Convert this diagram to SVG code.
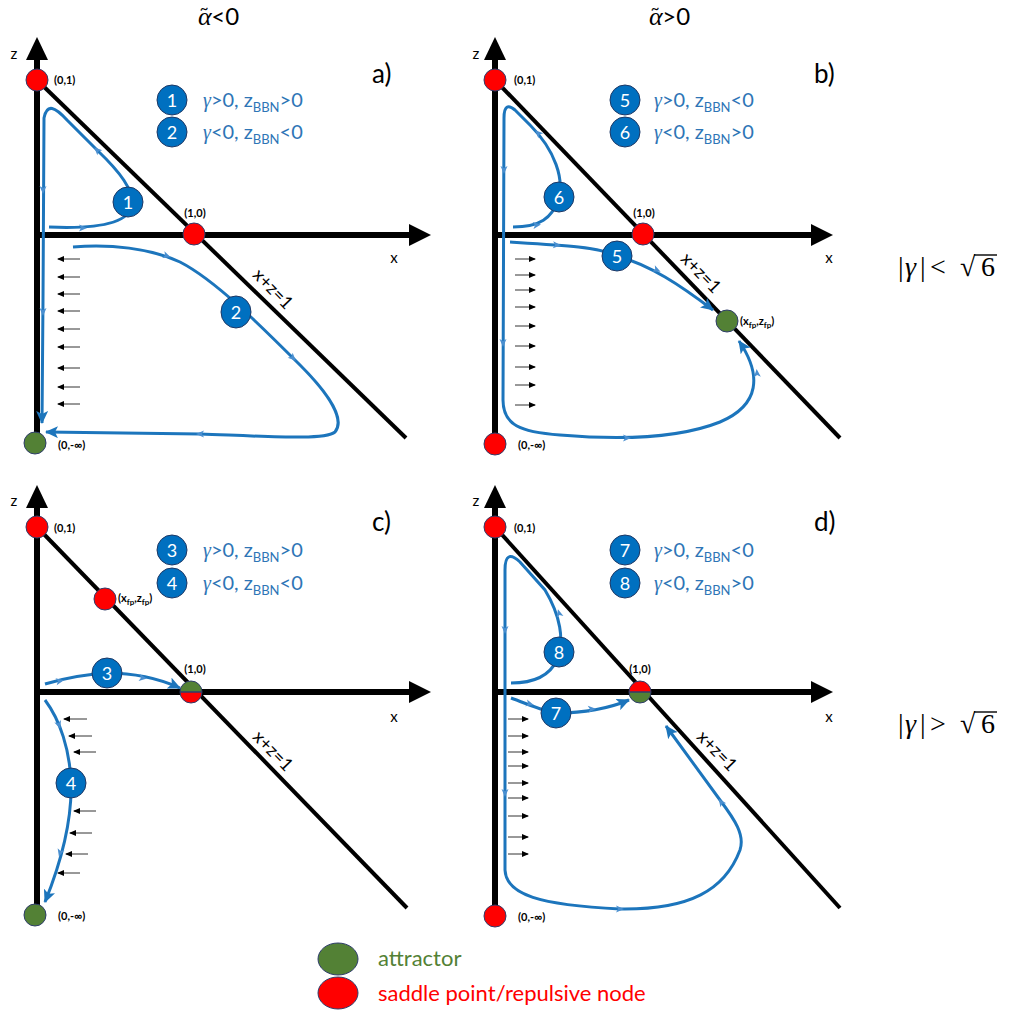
<svg xmlns="http://www.w3.org/2000/svg" xmlns:xlink="http://www.w3.org/1999/xlink" width="1025" height="1018" viewBox="0 0 1025 1018">
<style>
.ax{stroke:#000;stroke-width:6;fill:none}
.axh{fill:#000}
.dg{stroke:#000;stroke-width:4}
.tr{stroke:#1C75BC;stroke-width:3;fill:none}
.tre{stroke:#1C75BC;stroke-width:3;fill:none;marker-end:url(#ah)}
.sa{stroke:#333;stroke-width:1;marker-end:url(#sah)}
.nc{fill:#0070C0;stroke:#1F3864;stroke-width:1}
.nt{fill:#fff;font-family:Lato,"Liberation Sans",sans-serif;font-size:18px;text-anchor:middle}
.red{fill:#FF0000;stroke:#2F3D6B;stroke-width:1}
.grn{fill:#538135;stroke:#2F3D6B;stroke-width:1}
.pt{font-family:Lato,"Liberation Sans",sans-serif;font-weight:bold;font-size:11px;fill:#000}
.ptm{font-family:Lato,"Liberation Sans",sans-serif;font-weight:bold;font-size:11px;fill:#000;text-anchor:middle}
.lab{font-family:Lato,"Liberation Sans",sans-serif;font-size:15px;fill:#000;text-anchor:middle}
.pan{font-family:Lato,"Liberation Sans",sans-serif;font-size:26px;fill:#000}
.leg{font-family:Lato,"Liberation Sans",sans-serif;font-size:20px;fill:#2E75B6}
.g{font-family:"Liberation Serif",serif;font-style:italic}
.sub{font-size:13px}
.line{font-family:Lato,"Liberation Sans",sans-serif;font-size:18px;fill:#000;text-anchor:middle}
.hdr{font-family:Lato,"Liberation Sans",sans-serif;font-size:24px;fill:#000}
.cond{font-family:"Liberation Serif",serif;font-size:28px;fill:#000}
.vinc{stroke:#000;stroke-width:1.4}
.mid{fill:#4A8FD0}
</style>
<defs>
<marker id="ah" markerUnits="userSpaceOnUse" markerWidth="14" markerHeight="12" refX="12" refY="6" orient="auto">
<path d="M0,0 L13,6 L0,12 L3,6 z" fill="#1C75BC"/>
</marker>
<marker id="sah" markerUnits="userSpaceOnUse" markerWidth="7" markerHeight="6" refX="6" refY="3" orient="auto">
<path d="M0,0 L7,3 L0,6 z" fill="#000"/>
</marker>
<path id="tri" d="M4,0 L-4,-3.5 L-2,0 L-4,3.5 z" class="mid"/>
</defs>
<rect width="1025" height="1018" fill="#fff"/>

<!-- headers -->
<text class="hdr" x="198" y="25"><tspan class="g" font-size="26">α</tspan><tspan dx="-12" dy="-11" font-size="15">~</tspan><tspan dx="3" dy="11">&lt;0</tspan></text>
<text class="hdr" x="649" y="25"><tspan class="g" font-size="26">α</tspan><tspan dx="-12" dy="-11" font-size="15">~</tspan><tspan dx="3" dy="11">&gt;0</tspan></text>
<g id="cond-lt">
<text class="cond" y="276"><tspan x="898">|</tspan><tspan x="905" class="g">γ</tspan><tspan x="920">|</tspan><tspan x="930">&lt;</tspan><tspan x="960">√</tspan><tspan x="981">6</tspan></text>
<line class="vinc" x1="974" y1="255" x2="997" y2="255"/>
</g>
<g id="cond-gt">
<text class="cond" y="733"><tspan x="898">|</tspan><tspan x="905" class="g">γ</tspan><tspan x="920">|</tspan><tspan x="930">&gt;</tspan><tspan x="960">√</tspan><tspan x="981">6</tspan></text>
<line class="vinc" x1="974" y1="712" x2="997" y2="712"/>
</g>

<!-- axes and lines -->
<g id="axes">
<line class="ax" x1="37" y1="440" x2="37" y2="58"/><polygon class="axh" points="37,37 26,60 48,60"/>
<line class="ax" x1="37" y1="235" x2="411" y2="235"/><polygon class="axh" points="431,235 409,224 409,246"/>
<line class="dg" x1="37" y1="80" x2="406" y2="438"/>
<line class="ax" x1="495" y1="442" x2="495" y2="58"/><polygon class="axh" points="495,37 484,60 506,60"/>
<line class="ax" x1="495" y1="235" x2="813" y2="235"/><polygon class="axh" points="833,235 811,224 811,246"/>
<line class="dg" x1="495" y1="80" x2="840" y2="438"/>
<line class="ax" x1="37" y1="912" x2="37" y2="506"/><polygon class="axh" points="37,485 26,508 48,508"/>
<line class="ax" x1="37" y1="692" x2="411" y2="692"/><polygon class="axh" points="431,692 409,681 409,703"/>
<line class="dg" x1="37" y1="527" x2="407" y2="908"/>
<line class="ax" x1="495" y1="913" x2="495" y2="506"/><polygon class="axh" points="495,485 484,508 506,508"/>
<line class="ax" x1="495" y1="692" x2="813" y2="692"/><polygon class="axh" points="833,692 811,681 811,703"/>
<line class="dg" x1="495" y1="527" x2="840" y2="908"/>
</g>

<!-- axis labels -->
<g id="labels">
<text class="lab" x="14" y="59">z</text><text class="lab" x="394" y="263">x</text>
<text class="lab" x="476" y="59">z</text><text class="lab" x="829" y="263">x</text>
<text class="lab" x="14" y="506">z</text><text class="lab" x="394" y="722">x</text>
<text class="lab" x="476" y="506">z</text><text class="lab" x="829" y="722">x</text>
<text class="pan" x="372" y="83">a)</text>
<text class="pan" x="814" y="83">b)</text>
<text class="pan" x="372" y="531">c)</text>
<text class="pan" x="814" y="531">d)</text>
<text class="line" transform="translate(273,289) rotate(46)" y="6">x+z=1</text>
<text class="line" transform="translate(701,273) rotate(46)" y="6">x+z=1</text>
<text class="line" transform="translate(273,751) rotate(46)" y="6">x+z=1</text>
<text class="line" transform="translate(717,751) rotate(46)" y="6">x+z=1</text>
</g>

<!-- connectors / trajectories -->
<g id="connectors">
<!-- a -->
<path class="tre" d="M49,227 C95,229 128,224 132,206 C134,190 120,172 97,150 L67,120 C55,107 47,103 44,118 L43,300 L42,423"/>
<path class="tre" d="M73,247 C110,244 150,248 180,262 C215,280 260,325 300,365 C330,395 345,420 335,432 C325,440 280,437 200,434 L46,432"/>
<!-- b -->
<path class="tre" d="M510,242 C560,245 600,247 617,256 C650,265 680,285 713,310"/>
<path class="tre" d="M513,227 C540,227 552,218 558,200 C565,180 555,150 530,125 L515,110 C508,104 504,106 504,118 L503,400 C503,425 520,432 560,435 C620,440 680,438 720,422 C760,405 762,375 739,341"/>
<!-- c -->
<path class="tre" d="M45,684 C65,678 90,674 107,673 C135,673 160,679 180,688"/>
<path class="tre" d="M45,700 C60,720 70,750 71,783 C72,820 62,860 45,902"/>
<!-- d -->
<path class="tre" d="M511,698 C530,705 545,712 557,713 C580,713 605,710 629,700"/>
<path class="tre" d="M511,683 C535,683 550,675 557,660 C565,640 560,615 545,590 L520,562 C510,553 505,555 505,570 L505,870 C506,895 540,905 620,909 C690,910 725,890 740,850 C745,835 735,820 720,800 L666,726"/>

<!-- mid arrows -->
<use xlink:href="#tri" transform="translate(83,228)"/>
<use xlink:href="#tri" transform="translate(97,150) rotate(225)"/>
<use xlink:href="#tri" transform="translate(43,190) rotate(90)"/>
<use xlink:href="#tri" transform="translate(43,312) rotate(90)"/>
<use xlink:href="#tri" transform="translate(167,256) rotate(20)"/>
<use xlink:href="#tri" transform="translate(293,358) rotate(45)"/>
<use xlink:href="#tri" transform="translate(200,434) rotate(180)"/>
<use xlink:href="#tri" transform="translate(557,245) rotate(3)"/>
<use xlink:href="#tri" transform="translate(657,270) rotate(25)"/>
<use xlink:href="#tri" transform="translate(537,225) rotate(-8)"/>
<use xlink:href="#tri" transform="translate(538,133) rotate(225)"/>
<use xlink:href="#tri" transform="translate(504,170) rotate(90)"/>
<use xlink:href="#tri" transform="translate(503,343) rotate(90)"/>
<use xlink:href="#tri" transform="translate(627,438)"/>
<use xlink:href="#tri" transform="translate(757,373) rotate(-95)"/>
<use xlink:href="#tri" transform="translate(60,681) rotate(-10)"/>
<use xlink:href="#tri" transform="translate(143,678) rotate(8)"/>
<use xlink:href="#tri" transform="translate(59,725) rotate(70)"/>
<use xlink:href="#tri" transform="translate(60,853) rotate(105)"/>
<use xlink:href="#tri" transform="translate(530,704) rotate(15)"/>
<use xlink:href="#tri" transform="translate(592,709) rotate(-5)"/>
<use xlink:href="#tri" transform="translate(559,613) rotate(-105)"/>
<use xlink:href="#tri" transform="translate(505,630) rotate(90)"/>
<use xlink:href="#tri" transform="translate(505,793) rotate(90)"/>
<use xlink:href="#tri" transform="translate(620,909)"/>
<use xlink:href="#tri" transform="translate(721,802) rotate(-125)"/>

<!-- small black flow arrows -->
<line class="sa" x1="80" y1="259" x2="58" y2="259"/>
<line class="sa" x1="80" y1="277" x2="58" y2="277"/>
<line class="sa" x1="80" y1="294" x2="58" y2="294"/>
<line class="sa" x1="80" y1="311" x2="58" y2="311"/>
<line class="sa" x1="80" y1="329" x2="58" y2="329"/>
<line class="sa" x1="80" y1="347" x2="58" y2="347"/>
<line class="sa" x1="80" y1="368" x2="58" y2="368"/>
<line class="sa" x1="80" y1="387" x2="58" y2="387"/>
<line class="sa" x1="80" y1="404" x2="58" y2="404"/>

<line class="sa" x1="515" y1="259" x2="535" y2="259"/>
<line class="sa" x1="515" y1="275" x2="535" y2="275"/>
<line class="sa" x1="515" y1="290" x2="535" y2="290"/>
<line class="sa" x1="515" y1="307" x2="535" y2="307"/>
<line class="sa" x1="515" y1="326" x2="535" y2="326"/>
<line class="sa" x1="515" y1="346" x2="535" y2="346"/>
<line class="sa" x1="515" y1="367" x2="535" y2="367"/>
<line class="sa" x1="515" y1="385" x2="535" y2="385"/>
<line class="sa" x1="515" y1="405" x2="535" y2="405"/>

<line class="sa" x1="87" y1="719" x2="64" y2="719"/>
<line class="sa" x1="92" y1="736" x2="69" y2="736"/>
<line class="sa" x1="96" y1="752" x2="74" y2="752"/>
<line class="sa" x1="96" y1="811" x2="74" y2="811"/>
<line class="sa" x1="92" y1="833" x2="70" y2="833"/>
<line class="sa" x1="88" y1="854" x2="66" y2="854"/>
<line class="sa" x1="80" y1="873" x2="58" y2="873"/>

<line class="sa" x1="508" y1="719" x2="528" y2="719"/>
<line class="sa" x1="508" y1="736" x2="528" y2="736"/>
<line class="sa" x1="508" y1="752" x2="528" y2="752"/>
<line class="sa" x1="508" y1="766" x2="528" y2="766"/>
<line class="sa" x1="508" y1="783" x2="528" y2="783"/>
<line class="sa" x1="508" y1="798" x2="528" y2="798"/>
<line class="sa" x1="508" y1="816" x2="528" y2="816"/>
<line class="sa" x1="508" y1="837" x2="528" y2="837"/>
<line class="sa" x1="508" y1="854" x2="528" y2="854"/>
</g>

<!-- trajectory number badges -->
<g id="badge-a1"><circle class="nc" cx="128" cy="202" r="15"/><text class="nt" x="128" y="209">1</text></g>
<g id="badge-a2"><ellipse class="nc" cx="236" cy="312" rx="15" ry="16"/><text class="nt" x="236" y="319">2</text></g>
<g id="badge-b5"><circle class="nc" cx="617" cy="256" r="15"/><text class="nt" x="617" y="263">5</text></g>
<g id="badge-b6"><circle class="nc" cx="559" cy="197" r="15"/><text class="nt" x="559" y="204">6</text></g>
<g id="badge-c3"><circle class="nc" cx="107" cy="673" r="15"/><text class="nt" x="107" y="680">3</text></g>
<g id="badge-c4"><circle class="nc" cx="71" cy="783" r="15"/><text class="nt" x="71" y="790">4</text></g>
<g id="badge-d7"><circle class="nc" cx="556" cy="713" r="15"/><text class="nt" x="556" y="720">7</text></g>
<g id="badge-d8"><circle class="nc" cx="559" cy="652" r="15"/><text class="nt" x="559" y="659">8</text></g>

<!-- legends in panels -->
<g id="legend-a">
<circle class="nc" cx="172" cy="100" r="15"/><text class="nt" x="172" y="107">1</text>
<text class="leg" x="203" y="107"><tspan class="g">γ</tspan>&gt;0, z<tspan class="sub" dy="5">BBN</tspan><tspan dy="-5">&gt;0</tspan></text>
<circle class="nc" cx="172" cy="132" r="15"/><text class="nt" x="172" y="139">2</text>
<text class="leg" x="203" y="139"><tspan class="g">γ</tspan>&lt;0, z<tspan class="sub" dy="5">BBN</tspan><tspan dy="-5">&lt;0</tspan></text>
</g>
<g id="legend-b">
<circle class="nc" cx="625" cy="100" r="15"/><text class="nt" x="625" y="107">5</text>
<text class="leg" x="654" y="107"><tspan class="g">γ</tspan>&gt;0, z<tspan class="sub" dy="5">BBN</tspan><tspan dy="-5">&lt;0</tspan></text>
<circle class="nc" cx="625" cy="132" r="15"/><text class="nt" x="625" y="139">6</text>
<text class="leg" x="654" y="139"><tspan class="g">γ</tspan>&lt;0, z<tspan class="sub" dy="5">BBN</tspan><tspan dy="-5">&gt;0</tspan></text>
</g>
<g id="legend-c">
<circle class="nc" cx="172" cy="550" r="15"/><text class="nt" x="172" y="557">3</text>
<text class="leg" x="203" y="557"><tspan class="g">γ</tspan>&gt;0, z<tspan class="sub" dy="5">BBN</tspan><tspan dy="-5">&gt;0</tspan></text>
<circle class="nc" cx="172" cy="583" r="15"/><text class="nt" x="172" y="590">4</text>
<text class="leg" x="203" y="590"><tspan class="g">γ</tspan>&lt;0, z<tspan class="sub" dy="5">BBN</tspan><tspan dy="-5">&lt;0</tspan></text>
</g>
<g id="legend-d">
<circle class="nc" cx="625" cy="550" r="15"/><text class="nt" x="625" y="557">7</text>
<text class="leg" x="654" y="557"><tspan class="g">γ</tspan>&gt;0, z<tspan class="sub" dy="5">BBN</tspan><tspan dy="-5">&lt;0</tspan></text>
<circle class="nc" cx="625" cy="583" r="15"/><text class="nt" x="625" y="590">8</text>
<text class="leg" x="654" y="590"><tspan class="g">γ</tspan>&lt;0, z<tspan class="sub" dy="5">BBN</tspan><tspan dy="-5">&gt;0</tspan></text>
</g>

<!-- fixed points -->
<g id="a-p01"><circle class="red" cx="37" cy="80" r="11"/><text class="pt" x="54" y="84">(0,1)</text></g>
<g id="a-p10"><circle class="red" cx="194" cy="234" r="11"/><text class="ptm" x="195" y="217">(1,0)</text></g>
<g id="a-pinf"><circle class="grn" cx="35" cy="443" r="11"/><text class="pt" x="58" y="449">(0,-∞)</text></g>

<g id="b-p01"><circle class="red" cx="495" cy="80" r="11"/><text class="pt" x="514" y="84">(0,1)</text></g>
<g id="b-p10"><circle class="red" cx="643" cy="234" r="11"/><text class="ptm" x="644" y="217">(1,0)</text></g>
<g id="b-pfp"><circle class="grn" cx="727" cy="321" r="11"/><text class="pt" x="740" y="325">(x<tspan font-size="8" dy="3">fp</tspan><tspan dy="-3">,z</tspan><tspan font-size="8" dy="3">fp</tspan><tspan dy="-3">)</tspan></text></g>
<g id="b-pinf"><circle class="red" cx="495" cy="444" r="11"/><text class="pt" x="518" y="449">(0,-∞)</text></g>

<g id="c-p01"><circle class="red" cx="37" cy="527" r="11"/><text class="pt" x="54" y="532">(0,1)</text></g>
<g id="c-pfp"><circle class="red" cx="105" cy="599" r="11"/><text class="pt" x="118" y="602">(x<tspan font-size="8" dy="3">fp</tspan><tspan dy="-3">,z</tspan><tspan font-size="8" dy="3">fp</tspan><tspan dy="-3">)</tspan></text></g>
<g id="c-p10"><path d="M180,692 A11,11 0 0 1 202,692 Z" fill="#538135"/><path d="M180,692 A11,11 0 0 0 202,692 Z" fill="#FF0000"/><circle cx="191" cy="692" r="11" fill="none" stroke="#2F3D6B" stroke-width="1"/><line x1="180" y1="692" x2="202" y2="692" stroke="#2F3D6B" stroke-width="1.5"/><text class="ptm" x="195" y="673">(1,0)</text></g>
<g id="c-pinf"><circle class="grn" cx="35" cy="915" r="11"/><text class="pt" x="58" y="920">(0,-∞)</text></g>

<g id="d-p01"><circle class="red" cx="495" cy="527" r="11"/><text class="pt" x="514" y="532">(0,1)</text></g>
<g id="d-p10"><path d="M629,692 A11,11 0 0 1 651,692 Z" fill="#FF0000"/><path d="M629,692 A11,11 0 0 0 651,692 Z" fill="#538135"/><circle cx="640" cy="692" r="11" fill="none" stroke="#2F3D6B" stroke-width="1"/><line x1="629" y1="692" x2="651" y2="692" stroke="#2F3D6B" stroke-width="1.5"/><text class="ptm" x="640" y="673">(1,0)</text></g>
<g id="d-pinf"><circle class="red" cx="495" cy="916" r="11"/><text class="pt" x="518" y="921">(0,-∞)</text></g>

<!-- bottom legend -->
<g id="legend-bottom">
<ellipse class="grn" cx="338" cy="959" rx="20" ry="16"/>
<text x="378" y="966" font-family="Lato, 'Liberation Sans', sans-serif" font-size="22" fill="#538135">attractor</text>
<ellipse class="red" cx="338" cy="993" rx="20" ry="16"/>
<text x="378" y="1001" font-family="Lato, 'Liberation Sans', sans-serif" font-size="22" fill="#FF0000">saddle point/repulsive node</text>
</g>
</svg>
